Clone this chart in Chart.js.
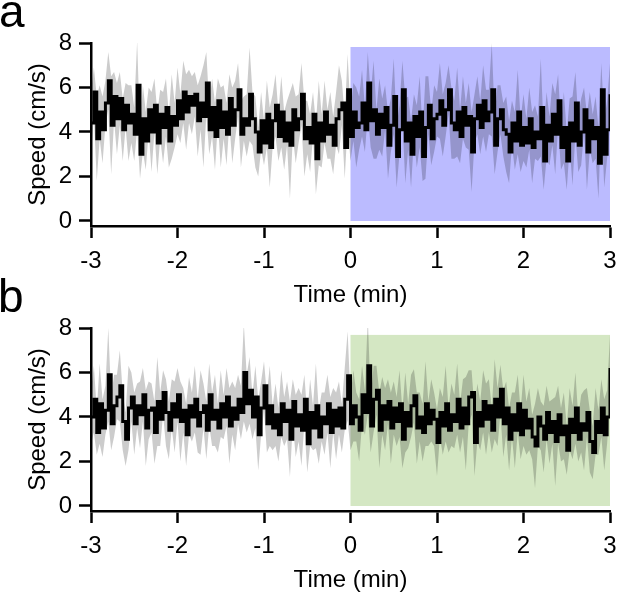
<!DOCTYPE html>
<html>
<head>
<meta charset="utf-8">
<script src="https://cdn.jsdelivr.net/npm/chart.js@4.4.1/dist/chart.umd.min.js"></script>
<style>
  body { margin: 0; width: 617px; height: 596px; overflow: hidden; background: #fff; position: relative; }
  canvas { position: absolute; left: 0; }
  #chartA { top: 0; }
  #chartB { top: 285px; }
  .letter { position: absolute; font-family: "Liberation Sans", Arial, sans-serif; font-size: 46px; line-height: 46px; color: #000; }
</style>
</head>
<body>
<canvas id="chartA" width="617" height="320"></canvas>
<canvas id="chartB" width="617" height="320"></canvas>
<div class="letter" style="left:-1px; top:-12px;">a</div>
<div class="letter" style="left:-2px; top:273px;">b</div>
<script>
// time axis: 2 s bins from -3 to +3 min
var tStart = -3;
var tStep = 1 / 30;

var xTicks = [-3, -2, -1, 0, 1, 2, 3];
var yTicks = [0, 2, 4, 6, 8];

// stimulation window (min) and height of the shaded box (cm/s)
var stimWindow = [0, 3];
var stimTopA = 7.82;
var stimTopB = 7.69;

// panel a: mean speed (cm/s)
var meanA = [
  4.4,5.8,3.7, 4.9,4.1,5.3, 6.3,4.3,5.6, 4.6,5.5,4.1, 5.2,4.4,4.8,
  3.9,6.1,3.0, 4.6,3.6,5.0, 4.0,5.2,3.5, 4.8,4.2,5.1, 3.6,4.7,4.3,
  5.4,4.6,5.8, 4.9,5.6,5.2, 5.7,4.5,5.3, 4.7,6.2,4.1, 5.1,3.8,5.4,
  4.2,4.9,3.9, 5.5,4.3,5.0, 5.9,3.9,4.6, 4.3,5.7,4.6, 4.0,3.1,4.5,
  3.5,4.8,3.3, 4.5,5.2,3.8, 4.9,3.6,4.4, 3.4,5.0,4.1, 4.6,5.7,3.7,
  4.2,3.5,4.8, 2.8,4.4,3.6, 4.9,3.9,4.3, 3.4,4.6,5.0, 5.3,3.3,5.9,
  3.8,4.9,4.2, 4.4,5.3,4.1, 6.2,4.5,5.0, 3.9,4.8,4.2, 5.1,3.4,4.3,
  5.6,2.9,4.1, 5.9,3.6,4.4, 3.0,4.7,3.8, 4.9,2.9,4.2, 5.2,3.7,4.6,
  4.8,5.4,4.3, 5.0,5.9,4.4, 4.1,4.9,3.8, 5.1,4.3,4.7, 3.1,4.6,5.2,
  4.2,5.4,4.5, 4.9,5.9,3.4, 4.6,5.0,4.1, 3.9,3.1,4.4, 3.6,4.9,3.4,
  4.2,3.5,4.6, 3.3,4.0,3.7, 5.1,2.7,4.3, 3.6,4.8,3.9, 5.4,3.3,4.2,
  2.7,4.4,3.6, 5.3,3.4,4.0, 5.0,3.1,4.5, 3.7,4.2,2.6, 5.9,3.0,4.1,
  5.7
];

// panel a: SEM (cm/s)
var semA = [
  1.4,1.1,1.9,1.2,1.5,1.0,1.3,2.2,1.1,1.6,1.2,1.4,1.0,1.7,1.3,
  1.2,2.0,1.1,1.5,1.3,1.0,1.8,1.2,1.4,1.1,1.6,1.3,1.2,1.9,1.0,
  1.5,1.1,1.4,1.7,1.2,1.3,1.0,1.6,1.2,2.3,1.4,1.1,1.3,1.5,1.0,
  1.8,1.2,1.4,1.1,1.7,1.3,1.2,1.5,1.0,1.4,2.1,1.2,1.6,1.1,1.3,
  1.0,1.5,1.8,1.2,1.4,1.1,1.6,1.3,1.0,2.4,1.2,1.5,1.1,1.4,1.7,
  1.2,1.3,1.0,1.6,1.9,1.2,1.4,1.1,1.5,1.3,1.2,2.0,1.0,1.4,1.6,
  1.1,1.3,1.8,1.2,1.5,1.0,1.4,1.2,2.2,1.1,1.6,1.3,1.0,1.5,1.2,
  1.7,1.4,1.1,1.3,1.9,1.2,1.5,1.0,1.4,1.6,1.1,2.3,1.3,1.2,1.5,
  1.0,1.7,1.4,1.2,1.1,1.6,1.3,2.0,1.2,1.4,1.0,1.5,1.8,1.1,1.3,
  1.2,1.6,1.4,1.0,2.1,1.3,1.5,1.1,1.2,1.7,1.4,1.0,1.3,1.9,1.2,
  1.5,1.1,1.4,1.6,1.2,1.0,2.2,1.3,1.5,1.1,1.4,1.8,1.2,1.0,1.6,
  1.3,1.1,2.0,1.4,1.2,1.5,1.0,1.7,1.3,1.1,1.4,1.6,1.2,1.5,1.3,
  1.4
];

// panel b: mean speed (cm/s)
var meanB = [
  4.0,4.8,3.3, 4.6,3.5,4.3, 5.9,3.7,4.5, 4.9,5.4,3.8, 3.0,4.4,4.9,
  3.7,4.5,4.1, 5.0,3.5,4.3, 4.4,3.3,4.7, 3.9,5.1,4.2, 3.4,4.6,4.0,
  5.0,3.8,4.3, 3.2,4.5,4.0, 4.8,3.6,4.2, 4.5,3.4,5.0, 3.9,4.3,3.5,
  4.6,4.0,4.9, 3.6,4.4,3.9, 4.8,4.2,6.0, 4.6,5.2,4.0, 4.9,3.2,4.4,
  5.4,3.7,4.5, 3.5,4.1,3.2, 4.6,3.8,4.3, 3.0,4.7,3.6, 4.1,3.4,4.8,
  2.8,4.2,3.5, 4.5,3.1,4.0, 3.7,4.6,3.3, 4.3,3.6,4.4, 3.5,4.8,5.85,
  3.7,4.5,4.0, 3.4,5.0,4.2, 6.3,3.6,4.8, 5.2,3.4,4.5, 3.9,4.7,3.5,
  4.4,3.8,4.6, 3.0,4.2,3.6, 4.5,4.95,3.5, 4.0,3.3,4.6, 3.7,4.3,3.9,
  2.85,4.2,3.6, 4.6,3.4,4.1, 3.8,4.8,3.5, 4.4,3.7,4.9, 5.1,2.85,4.2,
  3.6,4.7,3.9, 4.5,3.4,4.8, 4.0,5.25,3.7, 4.4,3.0,4.1, 3.4,4.6,3.2,
  4.3,3.5,3.9, 3.1,2.7,4.0, 3.6,3.0,4.2, 3.3,3.8,2.9, 4.1,3.2,3.6,
  2.5,3.9,3.3, 4.4,3.0,3.7, 3.4,4.2,2.9, 2.4,3.8,3.3, 4.4,3.2,4.0,
  6.2
];

// panel b: SEM (cm/s)
var semB = [
  1.2,1.5,1.0,1.8,1.3,1.1,2.1,1.2,1.4,1.0,1.6,1.3,1.2,1.9,1.1,
  1.4,1.0,1.5,1.2,1.7,1.3,1.1,1.4,2.0,1.2,1.0,1.5,1.3,1.1,1.6,
  1.2,1.8,1.0,1.4,1.3,1.1,1.5,1.2,1.9,1.0,1.3,1.4,1.2,1.6,1.1,
  1.5,1.0,1.3,1.7,1.2,1.4,1.1,1.2,2.2,1.3,1.5,1.0,1.4,1.6,1.2,
  1.1,1.3,1.8,1.0,1.4,1.2,1.5,1.1,1.3,1.7,1.0,1.4,1.2,1.6,1.1,
  1.3,1.5,1.0,1.9,1.2,1.1,1.4,1.3,1.6,1.0,1.5,1.2,1.1,1.4,2.0,
  1.2,1.6,1.1,1.4,1.3,1.0,2.2,1.2,1.5,1.1,1.7,1.3,1.4,1.0,1.6,
  1.2,1.1,1.5,1.3,1.8,1.0,1.4,1.2,1.6,1.1,1.3,1.9,1.0,1.4,1.2,
  1.5,1.1,1.3,1.7,1.0,1.4,1.2,1.6,1.1,1.3,2.1,1.2,1.0,1.5,1.3,
  1.1,1.4,1.6,1.2,1.0,1.8,1.3,1.1,1.5,1.2,1.4,1.0,1.7,1.3,1.1,
  1.6,1.2,1.4,1.0,1.9,1.3,1.1,1.5,1.2,1.4,1.0,2.0,1.3,1.2,1.5,
  1.1,1.4,1.2,1.6,1.0,1.3,1.8,1.1,1.4,1.2,1.5,1.0,1.3,1.6,1.2,
  1.5
];

var times = meanA.map(function (_, i) { return tStart + i * tStep; });

var font = { family: '"Liberation Sans", Arial, sans-serif', size: 24 };

// shaded box behind the traces for the stimulation period
var stimBox = {
    id: 'stimBox',
    beforeDatasetsDraw: function (chart, args, opts) {
        var x = chart.scales.x, y = chart.scales.y, ctx = chart.ctx;
        var x0 = x.getPixelForValue(stimWindow[0]);
        var x1 = x.getPixelForValue(stimWindow[1]);
        var y0 = y.getPixelForValue(0);
        var y1 = y.getPixelForValue(opts.top);
        ctx.save();
        ctx.fillStyle = opts.color;
        ctx.fillRect(x0, y1, x1 - x0, y0 - y1);
        ctx.restore();
    }
};

function makePanel(id, mean, sem, boxColor, boxTop) {
    var line = [], upper = [], lower = [];
    for (var i = 0; i < mean.length; i++) {
        line.push({ x: times[i], y: mean[i] });
        upper.push({ x: times[i], y: mean[i] + sem[i] });
        lower.push({ x: times[i], y: mean[i] - sem[i] });
    }

    return new Chart(document.getElementById(id), {
        type: 'line',
        data: {
            datasets: [
                { data: line, borderColor: '#000', borderWidth: 3, stepped: true, pointRadius: 0, fill: false },
                { data: upper, borderWidth: 0, pointRadius: 0, backgroundColor: 'rgba(0,0,0,0.2)', fill: '+1' },
                { data: lower, borderWidth: 0, pointRadius: 0, fill: false }
            ]
        },
        options: {
            responsive: false,
            animation: false,
            layout: { padding: { left: 0, right: 7, top: 43, bottom: 0 } },
            plugins: {
                legend: { display: false },
                tooltip: { enabled: false },
                stimBox: { color: boxColor, top: boxTop }
            },
            scales: {
                x: {
                    type: 'linear', min: -3, max: 3,
                    afterBuildTicks: function (s) { s.ticks = xTicks.map(function (v) { return { value: v }; }); },
                    afterFit: function (s) { s.height = 94; s.paddingLeft = 0; s.paddingRight = 0; },
                    grid: { drawOnChartArea: false, drawTicks: true, tickLength: 12, tickWidth: 2.5, tickColor: '#000' },
                    border: { color: '#000', width: 2.5 },
                    ticks: { color: '#000', font: font, padding: 9, maxRotation: 0, autoSkip: false },
                    title: { display: true, text: 'Time (min)', color: '#000', font: font, padding: { top: 0, bottom: 10.6 } }
                },
                y: {
                    min: -0.225, max: 8,
                    afterBuildTicks: function (s) { s.ticks = yTicks.map(function (v) { return { value: v }; }); },
                    afterFit: function (s) { s.width = 91; },
                    grid: { drawOnChartArea: false, drawTicks: true, tickLength: 12, tickWidth: 2.5, tickColor: '#000' },
                    border: { color: '#000', width: 2.5 },
                    ticks: { color: '#000', font: font, padding: 7, autoSkip: false },
                    title: { display: true, text: 'Speed (cm/s)', color: '#000', font: font, padding: { top: 24, bottom: 0 } }
                }
            }
        },
        plugins: [stimBox]
    });
}

makePanel('chartA', meanA, semA, '#BBBBFF', stimTopA);
makePanel('chartB', meanB, semB, '#D4E7C3', stimTopB);
</script>
</body>
</html>
